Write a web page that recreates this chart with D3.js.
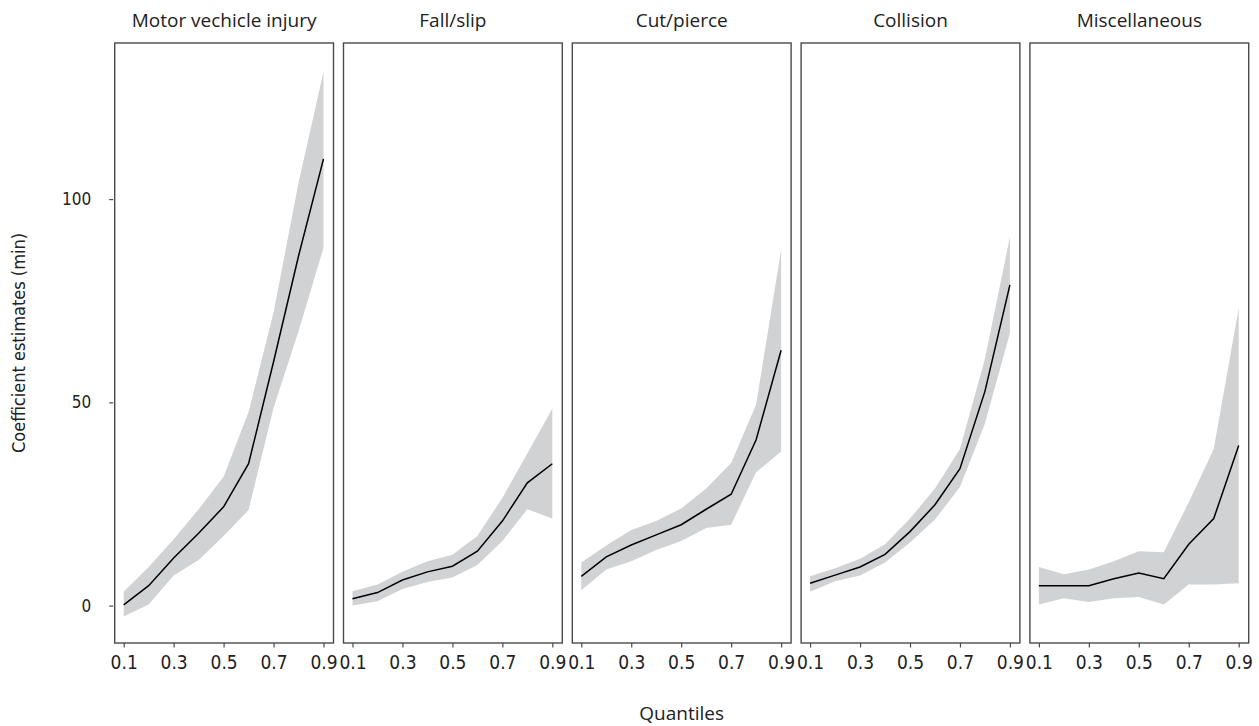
<!DOCTYPE html>
<html>
<head>
<meta charset="utf-8">
<script src="https://cdn.jsdelivr.net/npm/d3@7"></script>
<style>
  html, body { margin: 0; padding: 0; background: #fff; }
  svg { display: block; }
</style>
</head>
<body>
<svg id="chart" width="1259" height="726"></svg>
<script>
// ---- data ----
const quantiles = [0.1, 0.2, 0.3, 0.4, 0.5, 0.6, 0.7, 0.8, 0.9];
const categories = ["Motor vechicle injury", "Fall/slip", "Cut/pierce", "Collision", "Miscellaneous"];

const motorEst   = [0.2, 4.9, 11.7, 17.8, 24.3, 34.9, 60.0, 86.0, 109.9];
const motorUpper = [3.4, 9.5, 16.3, 23.7, 31.7, 47.6, 72.1, 104.0, 131.3];
const motorLower = [-2.7, 0.3, 7.4, 11.2, 17.1, 23.5, 48.7, 67.5, 88.0];

const fallEst   = [1.7, 3.2, 6.3, 8.3, 9.7, 13.4, 20.8, 30.2, 34.9];
const fallUpper = [3.5, 5.2, 8.3, 10.9, 12.5, 17.1, 26.5, 37.4, 48.4];
const fallLower = [0.0, 1.1, 4.1, 5.8, 6.9, 10.0, 15.9, 23.7, 21.4];

const cutEst   = [7.2, 12.0, 14.9, 17.4, 19.9, 23.7, 27.4, 40.8, 62.8];
const cutUpper = [10.6, 14.8, 18.6, 20.8, 23.9, 28.8, 35.1, 49.5, 87.5];
const cutLower = [3.8, 8.9, 10.9, 13.7, 15.9, 19.1, 19.9, 32.8, 37.9];

const collEst   = [5.5, 7.5, 9.5, 12.6, 18.2, 24.8, 33.7, 52.7, 78.9];
const collUpper = [7.2, 9.2, 11.5, 15.1, 21.4, 28.8, 38.5, 60.7, 90.7];
const collLower = [3.4, 6.0, 7.4, 10.6, 15.5, 21.2, 29.2, 44.8, 67.0];

const miscEst   = [4.9, 4.9, 4.9, 6.6, 8.0, 6.6, 15.1, 21.4, 39.4];
const miscUpper = [9.5, 7.7, 8.9, 10.9, 13.4, 13.1, 25.4, 38.5, 73.2];
const miscLower = [0.3, 1.8, 0.9, 1.8, 2.1, 0.3, 5.2, 5.2, 5.5];

const xTicks = [0.1, 0.3, 0.5, 0.7, 0.9];
const yTicks = [0, 50, 100];
const yTitle = "Coefficient estimates (min)";
const xTitle = "Quantiles";

const panelsData = [
  {est: motorEst, lo: motorLower, hi: motorUpper},
  {est: fallEst, lo: fallLower, hi: fallUpper},
  {est: cutEst, lo: cutLower, hi: cutUpper},
  {est: collEst, lo: collLower, hi: collUpper},
  {est: miscEst, lo: miscLower, hi: miscUpper}
];

// ---- layout ----
const panelLeft0 = 114.7, panelStep = 228.8, panelW = 218.8;
const panelTop = 43, panelBottom = 643;
const borderColor = "#4a4a4a";

const svg = d3.select("#chart");

const y = d3.scaleLinear().domain([-9.2, 138.4]).range([panelBottom, panelTop]);

categories.forEach((cat, i) => {
  const left = panelLeft0 + i * panelStep;
  const x = d3.scaleLinear().domain([0.064, 0.94]).range([left, left + panelW]);
  const d = panelsData[i];
  const rows = quantiles.map((q, j) => ({q, est: d.est[j], lo: d.lo[j], hi: d.hi[j]}));
  const g = svg.append("g");

  // ribbon
  g.append("path")
    .datum(rows)
    .attr("fill", "#d1d2d4")
    .attr("d", d3.area().x(r => x(r.q)).y0(r => y(r.lo)).y1(r => y(r.hi)));

  // line
  g.append("path")
    .datum(rows)
    .attr("fill", "none")
    .attr("stroke", "#000")
    .attr("stroke-width", 1.5)
    .attr("d", d3.line().x(r => x(r.q)).y(r => y(r.est)));

  // border
  g.append("rect")
    .attr("x", left).attr("y", panelTop)
    .attr("width", panelW).attr("height", panelBottom - panelTop)
    .attr("fill", "none").attr("stroke", borderColor).attr("stroke-width", 1.4);

  // x axis
  const xAxis = d3.axisBottom(x).tickValues(xTicks).tickFormat(d3.format(".1f"))
    .tickSize(4.5).tickPadding(8);
  const ax = g.append("g").attr("transform", `translate(0,${panelBottom})`).call(xAxis);
  ax.select(".domain").remove();
  ax.selectAll(".tick line").attr("stroke", borderColor).attr("stroke-width", 1.2);
  ax.selectAll(".tick text")
    .attr("fill", "#222")
    .style("font-family", "'Liberation Sans Narrow', 'DejaVu Sans Condensed', 'Liberation Sans', sans-serif")
    .style("font-size", "19px");

  // title
  g.append("text")
    .attr("x", left + panelW / 2).attr("y", 27)
    .attr("text-anchor", "middle")
    .attr("fill", "#222")
    .style("font-family", "'Open Sans', 'Noto Sans', sans-serif")
    .style("font-size", "19px")
    .text(cat);

  if (i === 0) {
    const yAxis = d3.axisLeft(y).tickValues(yTicks).tickSize(4).tickPadding(18);
    const ay = g.append("g").attr("transform", `translate(${left - 1.5},0)`).call(yAxis);
    ay.select(".domain").remove();
    ay.selectAll(".tick line").attr("stroke", borderColor).attr("stroke-width", 1.2);
    ay.selectAll(".tick text")
      .attr("fill", "#222")
      .style("font-family", "'Liberation Sans Narrow', 'DejaVu Sans Condensed', 'Liberation Sans', sans-serif")
      .style("font-size", "17px");
  }
});

// axis titles
svg.append("text")
  .attr("transform", `translate(25,${(panelTop + panelBottom) / 2}) rotate(-90)`)
  .attr("text-anchor", "middle")
  .attr("fill", "#222")
  .style("font-family", "'Liberation Sans Narrow', 'DejaVu Sans Condensed', 'Liberation Sans', sans-serif")
  .style("font-size", "18px")
  .text(yTitle);

svg.append("text")
  .attr("x", (panelLeft0 + panelLeft0 + 4 * panelStep + panelW) / 2)
  .attr("y", 720)
  .attr("text-anchor", "middle")
  .attr("fill", "#222")
  .style("font-family", "'Open Sans', 'Noto Sans', sans-serif")
  .style("font-size", "19px")
  .text(xTitle);
</script>
</body>
</html>
